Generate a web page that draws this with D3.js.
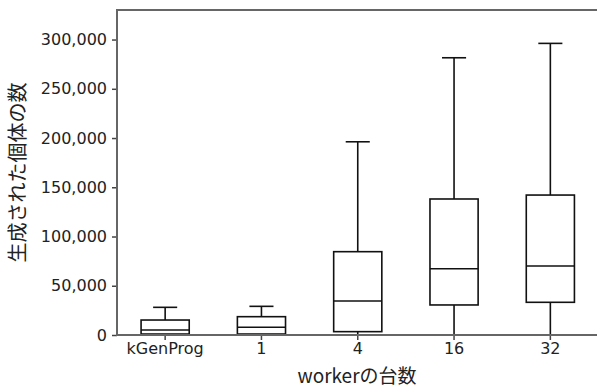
<!DOCTYPE html>
<html lang="ja">
<head>
<meta charset="utf-8">
<title>box plot</title>
<style>
  body { margin: 0; background: #fff; }
  text { font-family: "Noto Sans CJK JP", "Noto Sans", sans-serif; fill: #222; }
  .tick text { font-family: "DejaVu Sans", sans-serif; }
  .frame { stroke: #666; stroke-width: 2; fill: none; }
  .box { stroke: #111; stroke-width: 1.6; fill: none; }
</style>
<script src="https://d3js.org/d3.v7.min.js"></script>
</head>
<body>
<script>
var categories = ["kGenProg", "1", "4", "16", "32"];
var mins    = [0, 0, 0, 0, 0];
var q1s     = [1000, 1000, 3400, 30500, 33200];
var medians = [5100, 7800, 34500, 67300, 70000];
var q3s     = [15200, 18600, 84600, 138100, 142100];
var maxs    = [28100, 29100, 196200, 281500, 296100];
var yTicks  = [0, 50000, 100000, 150000, 200000, 250000, 300000];

var w = 597, h = 388;
var pLeft = 117, pTop = 10, pBottom = 335, pRight = 597;

var svg = d3.select("body").append("svg")
  .attr("width", w)
  .attr("height", h);

var x = d3.scaleBand()
  .domain(categories)
  .range([pLeft, 598.5])
  .padding(0);

var y = d3.scaleLinear()
  .domain([0, 330000])
  .range([pBottom, pTop]);

var boxW = x.bandwidth() * 0.5;
var capW = x.bandwidth() * 0.25;

var data = categories.map(function(c, i) {
  return { name: c, min: mins[i], q1: q1s[i], med: medians[i], q3: q3s[i], max: maxs[i] };
});

var g = svg.selectAll(".item")
  .data(data)
  .enter().append("g")
  .attr("class", "box")
  .attr("transform", function(d) { return "translate(" + (x(d.name) + x.bandwidth() / 2) + ",0)"; });

// whiskers
g.append("line")
  .attr("x1", 0).attr("x2", 0)
  .attr("y1", function(d) { return y(d.q3); })
  .attr("y2", function(d) { return y(d.max); });
g.append("line")
  .attr("x1", 0).attr("x2", 0)
  .attr("y1", function(d) { return y(d.q1); })
  .attr("y2", function(d) { return y(d.min); });
g.append("line")
  .attr("x1", -capW / 2).attr("x2", capW / 2)
  .attr("y1", function(d) { return y(d.max); })
  .attr("y2", function(d) { return y(d.max); });
g.append("line")
  .attr("x1", -capW / 2).attr("x2", capW / 2)
  .attr("y1", function(d) { return y(d.min); })
  .attr("y2", function(d) { return y(d.min); });
// box
g.append("rect")
  .attr("x", -boxW / 2)
  .attr("width", boxW)
  .attr("y", function(d) { return y(d.q3); })
  .attr("height", function(d) { return y(d.q1) - y(d.q3); });
g.append("line")
  .attr("x1", -boxW / 2).attr("x2", boxW / 2)
  .attr("y1", function(d) { return y(d.med); })
  .attr("y2", function(d) { return y(d.med); });

// axes
var yAxis = svg.append("g")
  .attr("transform", "translate(" + pLeft + ",0)")
  .call(d3.axisLeft(y).tickValues(yTicks).tickSize(5).tickPadding(5).tickFormat(d3.format(",")));
var xAxis = svg.append("g")
  .attr("transform", "translate(0," + pBottom + ")")
  .call(d3.axisBottom(x).tickSize(5).tickPadding(3));

[yAxis, xAxis].forEach(function(a) {
  a.select(".domain").remove();
  a.selectAll(".tick line").attr("stroke", "#444").attr("stroke-width", 1.5);
  a.selectAll(".tick text").style("font-size", "16px").attr("fill", "#222");
});

// frame: left, top and bottom
svg.append("path")
  .attr("class", "frame")
  .attr("d", "M" + pRight + "," + pTop + "H" + pLeft + "V" + pBottom + "H" + pRight);

svg.append("text")
  .attr("x", (pLeft + pRight) / 2)
  .attr("y", 383)
  .attr("text-anchor", "middle")
  .style("font-size", "19px")
  .text("workerの台数");

svg.append("text")
  .attr("transform", "translate(25," + ((pTop + pBottom) / 2) + ") rotate(-90)")
  .attr("text-anchor", "middle")
  .style("font-size", "20px")
  .text("生成された個体の数");
</script>
</body>
</html>
